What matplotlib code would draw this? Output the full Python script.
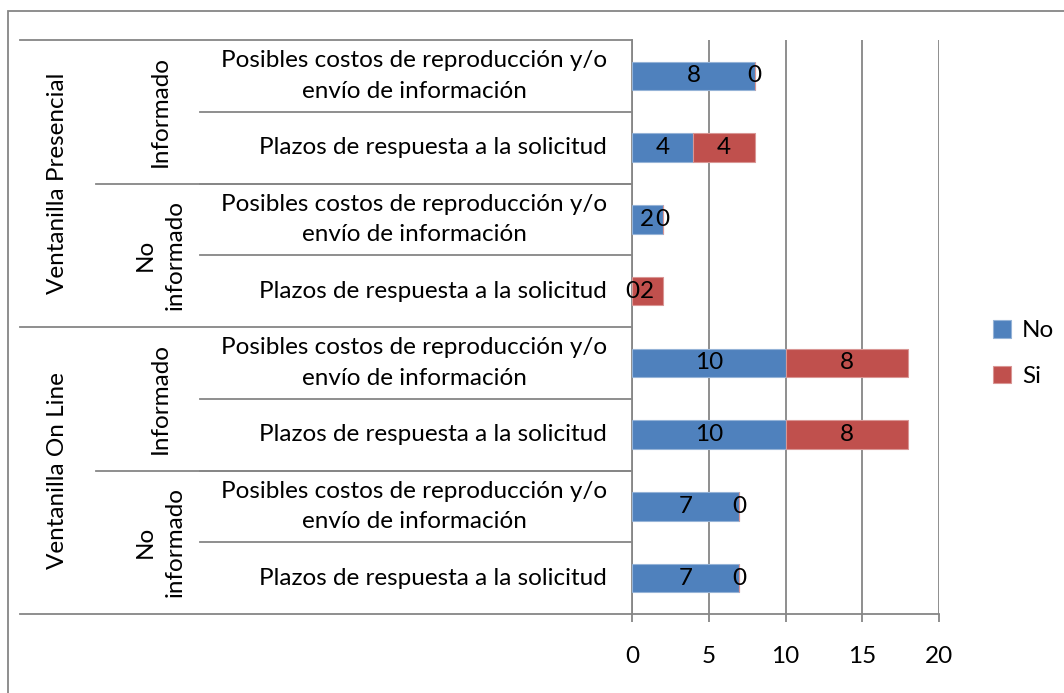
import matplotlib
matplotlib.use('Agg')
import matplotlib.pyplot as plt
import matplotlib.transforms as mtransforms
from matplotlib.lines import Line2D
from matplotlib.patches import Rectangle

plt.rcParams['font.family'] = ['Lato', 'DejaVu Sans']

# filas de arriba a abajo
canal = ['Ventanilla Presencial', 'Ventanilla On Line']
estado = ['Informado', 'No\ninformado']
item = ['Posibles costos de reproducción y/o\nenvío de información',
        'Plazos de respuesta a la solicitud']
no_vals = [8, 4, 2, 0, 10, 10, 7, 7]
si_vals = [0, 4, 0, 2, 8, 8, 0, 0]
xticks = [0, 5, 10, 15, 20]

FS = 17.5
W, H = 1064, 693
fig = plt.figure(figsize=(W / 100, H / 100), dpi=100)
ax = fig.add_axes([632 / W, 1 - 614 / H, (939 - 632) / W, (614 - 40) / H])

rows = list(range(len(no_vals)))
b1 = ax.barh(rows, no_vals, height=0.4, color='#4F81BD', edgecolor='#95B3D7',
             linewidth=0.8, label='No', zorder=3)
b2 = ax.barh(rows, si_vals, height=0.4, left=no_vals, color='#C0504D',
             edgecolor='#D99694', linewidth=0.8, label='Si', zorder=3)
ax.bar_label(b1, label_type='center', fontsize=FS, zorder=4)
ax.bar_label(b2, label_type='center', fontsize=FS, zorder=4)

ax.set_ylim(len(rows) - 0.5, -0.5)
ax.set_xlim(0, 20)
ax.set_xticks(xticks)
ax.set_yticks([])
ax.grid(axis='x', color='#868686', linewidth=1.3, zorder=0)
for s in ['top', 'right']:
    ax.spines[s].set_visible(False)
for s in ['left', 'bottom']:
    ax.spines[s].set_color('#868686')
    ax.spines[s].set_linewidth(1.3)
ax.tick_params(axis='x', direction='out', length=6, width=1.3, color='#868686',
               labelsize=FS, pad=17)

# etiquetas de categorias en varios niveles
tr = mtransforms.blended_transform_factory(fig.transFigure, ax.transData)
gc = '#868686'


def hline(x0, x1, y):
    fig.add_artist(Line2D([x0 / W, x1 / W], [y, y], transform=tr, color=gc, lw=1.3))


for i in range(len(rows)):
    fig.text(607 / W, i, item[i % 2], transform=tr, ha='right', va='center',
             multialignment='center', fontsize=FS, linespacing=1.55)
    if i % 4 != 3:
        hline(200, 632, i + 0.5)
for j in range(4):
    fig.text(160 / W, j * 2 + 0.5, estado[j % 2], transform=tr, ha='center', va='center',
             rotation=90, multialignment='center', fontsize=FS, linespacing=1.5)
    if j % 2 == 0:
        hline(96, 632, j * 2 + 1.5)
for k in range(2):
    fig.text(58 / W, k * 4 + 1.5, canal[k], transform=tr, ha='center', va='center',
             rotation=90, fontsize=FS)
for y in [-0.5, 3.5, 7.5]:
    hline(20, 632, y)

ax.legend(loc='upper left', bbox_to_anchor=(993 / W, 1 - 320 / H), bbox_transform=fig.transFigure,
          frameon=False, fontsize=FS, handlelength=0.75, handleheight=0.75,
          handletextpad=0.45, labelspacing=1.0, borderaxespad=0, borderpad=0)

fig.add_artist(Rectangle((8 / W, -0.1), 1.2, 1 - 11 / H + 0.1, transform=fig.transFigure,
                         fill=False, edgecolor='#868686', lw=1.3))

fig.savefig('out.png', dpi=100, facecolor='white')
